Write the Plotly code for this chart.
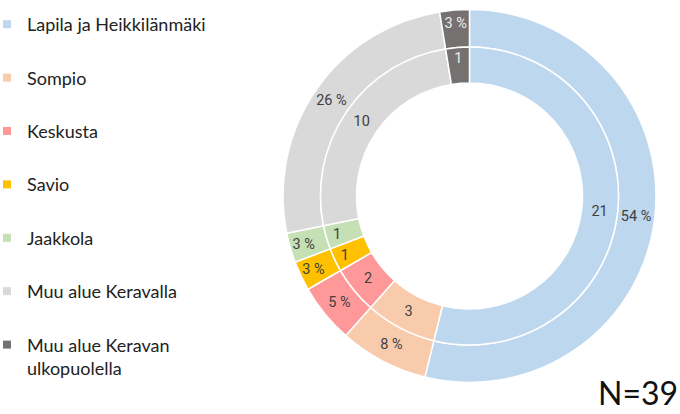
import plotly.graph_objects as go

categories = ["Lapila ja Heikkilänmäki", "Sompio", "Keskusta", "Savio", "Jaakkola",
              "Muu alue Keravalla", "Muu alue Keravan ulkopuolella"]
legend_labels = ["Lapila ja Heikkilänmäki", "Sompio", "Keskusta", "Savio", "Jaakkola",
                 "Muu alue Keravalla", "Muu alue Keravan<br>ulkopuolella"]
counts = [21, 3, 2, 1, 1, 10, 1]
percent_labels = ["54 %", "8 %", "5 %", "3 %", "3 %", "26 %", "3 %"]
colors = ["#BDD7EE", "#F8CBAD", "#FF9999", "#FFC000", "#C5E0B4", "#D9D9D9", "#767171"]
text_colors = ["#404040"] * 6 + ["#EEEEEE"]
n_total = 39

W, H = 680, 414
cx, cy = 469.5, 196.0
r_out, r_mid, r_in = 186.5, 149.0, 113.0

def dom(r):
    return dict(x=[(cx - r) / W, (cx + r) / W], y=[1 - (cy + r) / H, 1 - (cy - r) / H])

fig = go.Figure()
# outer ring: percentages
fig.add_trace(go.Pie(
    labels=categories, values=counts, text=percent_labels, textinfo="text",
    sort=False, direction="clockwise", rotation=0, hole=r_mid / r_out,
    domain=dom(r_out), marker=dict(colors=colors, line=dict(color="white", width=1.5)),
    textposition="inside", insidetextorientation="horizontal",
    textfont=dict(family="Roboto", size=14.5, color=text_colors),
    showlegend=False, hoverinfo="label+text",
))
# inner ring: counts
fig.add_trace(go.Pie(
    labels=categories, values=counts, text=[str(c) for c in counts], textinfo="text",
    sort=False, direction="clockwise", rotation=0, hole=r_in / r_mid,
    domain=dom(r_mid), marker=dict(colors=colors, line=dict(color="white", width=1.5)),
    textposition="inside", insidetextorientation="horizontal",
    textfont=dict(family="Roboto", size=14.5, color=text_colors),
    showlegend=False, hoverinfo="label+text",
))
# legend entries
for i, (lab, col) in enumerate(zip(legend_labels, colors)):
    fig.add_trace(go.Scatter(
        x=[None], y=[None], mode="markers", name=lab,
        marker=dict(symbol="square", size=8, color=col),
        legendgroup=str(i), showlegend=True,
    ))

fig.update_layout(
    width=W, height=H, margin=dict(l=0, r=0, t=0, b=0, autoexpand=False),
    paper_bgcolor="white", plot_bgcolor="white",
    xaxis=dict(visible=False), yaxis=dict(visible=False),
    uniformtext=dict(minsize=14.5, mode="show"),
    legend=dict(x=-13 / W, y=1 - 6 / H, xanchor="left", yanchor="top",
                font=dict(family="Lato", size=18, color="#222222"),
                tracegroupgap=27, valign="top", itemwidth=30,
                bgcolor="rgba(0,0,0,0)"),
    annotations=[dict(text=f"N={n_total}", x=1.0, y=0.0, xref="paper", yref="paper",
                      xanchor="right", yanchor="bottom", showarrow=False,
                      font=dict(family="Lato", size=32, color="#111111"))],
)

fig.write_html("out.html", config={"displayModeBar": False},
               post_script="document.body.style.margin='0';")
